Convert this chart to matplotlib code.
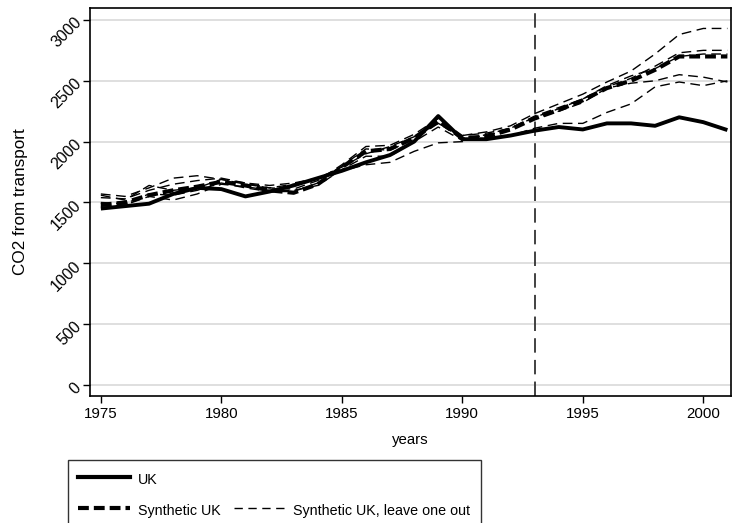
import matplotlib
matplotlib.use("Agg")
import matplotlib.pyplot as plt
from matplotlib.lines import Line2D

plt.rcParams['font.family'] = ['Liberation Sans', 'DejaVu Sans']

years = list(range(1975, 2002))

uk = [1450, 1470, 1490, 1570, 1620, 1610, 1550, 1590, 1640, 1700,
      1760, 1830, 1890, 2000, 2210, 2020, 2020, 2050, 2090, 2120,
      2100, 2150, 2150, 2130, 2200, 2160, 2095]

synthetic_uk = [1480, 1500, 1560, 1600, 1630, 1670, 1640, 1600, 1580, 1650,
                1790, 1920, 1940, 2030, 2170, 2030, 2040, 2100, 2190, 2260,
                2340, 2440, 2500, 2590, 2700, 2700, 2700]

loo_1 = [1570, 1550, 1620, 1700, 1720, 1690, 1660, 1640, 1660, 1700,
         1790, 1900, 1960, 2040, 2150, 2050, 2080, 2130, 2230, 2310,
         2390, 2490, 2580, 2720, 2880, 2930, 2930]
loo_2 = [1540, 1530, 1600, 1650, 1680, 1700, 1660, 1620, 1610, 1680,
         1810, 1960, 1970, 2060, 2190, 2050, 2070, 2110, 2210, 2280,
         2350, 2450, 2520, 2620, 2730, 2750, 2750]
loo_3 = [1500, 1490, 1570, 1560, 1600, 1660, 1620, 1590, 1590, 1660,
         1800, 1940, 1930, 2020, 2150, 2030, 2050, 2100, 2190, 2250,
         2320, 2440, 2480, 2500, 2550, 2530, 2490]
loo_4 = [1470, 1480, 1550, 1520, 1570, 1650, 1630, 1600, 1600, 1640,
         1770, 1880, 1880, 2000, 2120, 2010, 2020, 2050, 2110, 2150,
         2150, 2240, 2310, 2450, 2490, 2460, 2500]
loo_5 = [1560, 1520, 1640, 1600, 1620, 1690, 1650, 1620, 1650, 1700,
         1760, 1810, 1830, 1920, 1990, 2000, 2060, 2110, 2200, 2270,
         2350, 2460, 2540, 2600, 2700, 2720, 2720]
leave_one_out = [loo_1, loo_2, loo_3, loo_4, loo_5]

treatment_year = 1993
yticks = [0, 500, 1000, 1500, 2000, 2500, 3000]
xticks = [1975, 1980, 1985, 1990, 1995, 2000]

W, H = 732, 523
fig = plt.figure(figsize=(W / 100, H / 100), dpi=100)
ax_h = 396 - 8
ax = fig.add_axes([90 / W, 1 - 396 / H, (731 - 90) / W, ax_h / H])

for yt in yticks:
    ax.axhline(yt, color='#dcdcdc', lw=1.3, zorder=0)

for s in leave_one_out:
    ax.plot(years, s, color='black', lw=1.0, ls=(0, (7, 4)), zorder=2)
ax.plot(years, synthetic_uk, color='black', lw=3.0, ls=(0, (2.6, 1.2)), zorder=3)
ax.plot(years, uk, color='black', lw=2.8, solid_capstyle='butt', zorder=4)
ax.axvline(treatment_year, color='#333333', lw=1.3, ls=(0, (8, 4)), zorder=1)

ax.set_xlim(1974.55, 2001.15)
ax.set_ylim(-90, 3098)
ax.set_xticks(xticks)
ax.set_yticks(yticks)
ax.tick_params(axis='x', direction='out', length=5, width=1, labelsize=10.8, colors='black', pad=3)
ax.tick_params(axis='y', direction='out', length=5, width=1, labelsize=11.5, colors='black', pad=3)
for lab in ax.get_yticklabels():
    lab.set_rotation(45)
    lab.set_ha('right')
    lab.set_va('center')
    lab.set_rotation_mode('anchor')
for sp in ax.spines.values():
    sp.set_linewidth(1.2)
    sp.set_color('black')

ax.set_xlabel('years', fontsize=10.8, va='center')
ax.xaxis.set_label_coords(0.5, -(440 - 396) / ax_h)
ax.set_ylabel('CO2 from transport', fontsize=12.3, va='center')
ax.yaxis.set_label_coords(-(90 - 21) / (731 - 90), 0.5)

h_uk = Line2D([], [], color='black', lw=3.0)
h_syn = Line2D([], [], color='black', lw=3.0, ls=(0, (2.6, 1.2)))
h_loo = Line2D([], [], color='black', lw=1.0, ls=(0, (6, 4)))
h_blank = Line2D([], [], color='none')
leg = fig.legend([h_uk, h_syn, h_blank, h_loo],
                 ['UK', 'Synthetic UK', '', 'Synthetic UK, leave one out'],
                 loc='upper left', ncol=2,
                 bbox_to_anchor=(68 / W, 1 - 460 / H),
                 fontsize=10.3, handlelength=3.6, handleheight=1.6,
                 frameon=True, fancybox=False, edgecolor='black',
                 borderpad=0.72, labelspacing=0.85, handletextpad=0.55,
                 columnspacing=0.95, borderaxespad=0)
leg.get_frame().set_linewidth(1.0)

fig.savefig('out.png', dpi=100, facecolor='white')
